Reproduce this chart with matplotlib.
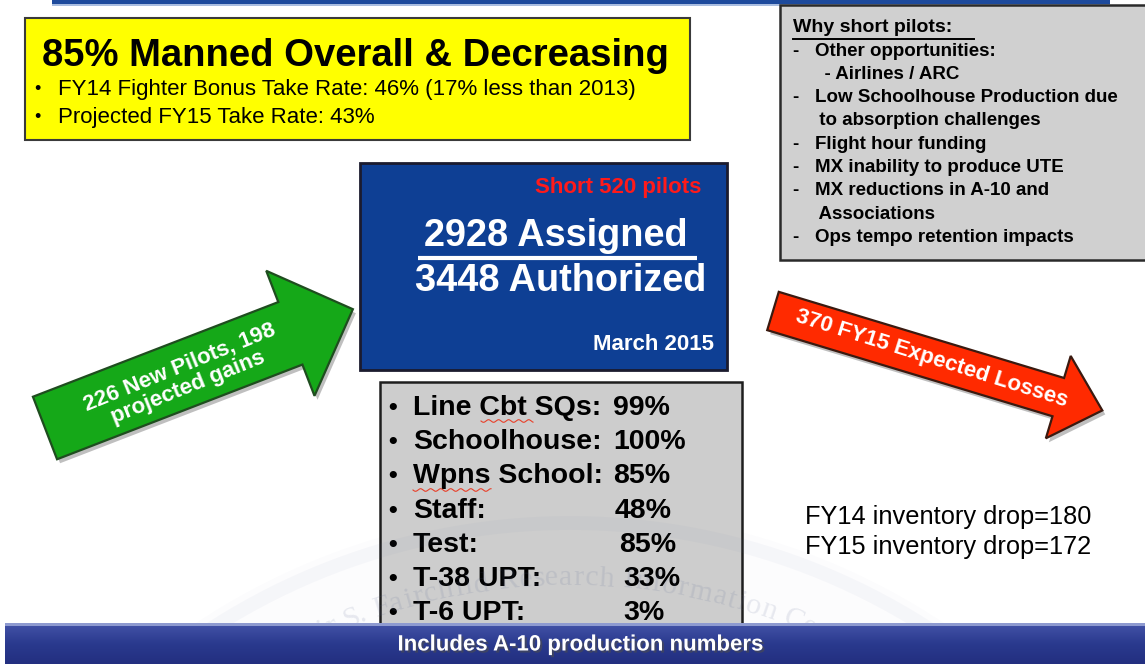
import numpy as np
import matplotlib
matplotlib.use("Agg")
import matplotlib.pyplot as plt
from matplotlib.patches import Polygon, Rectangle, Circle
from matplotlib import patheffects as pe
from matplotlib import font_manager
from matplotlib.textpath import TextPath
from matplotlib.font_manager import FontProperties

plt.rcParams["font.family"] = ["Liberation Sans", "DejaVu Sans"]

# ---- content -------------------------------------------------------------
headline = "85% Manned Overall & Decreasing"
take_rate_notes = [
    "FY14 Fighter Bonus Take Rate: 46% (17% less than 2013)",
    "Projected FY15 Take Rate: 43%",
]
why_title = "Why short pilots:"
why_lines = [
    "-   Other opportunities:",
    "      - Airlines / ARC",
    "-   Low Schoolhouse Production due",
    "     to absorption challenges",
    "-   Flight hour funding",
    "-   MX inability to produce UTE",
    "-   MX reductions in A-10 and",
    "     Associations",
    "-   Ops tempo retention impacts",
]
assigned = 2928
authorized = 3448
as_of = "March 2015"
unit_labels = ["Line Cbt SQs:", "Schoolhouse:", "Wpns School:", "Staff:",
               "Test:", "T-38 UPT:", "T-6 UPT:"]
unit_pct = [99, 100, 85, 48, 85, 33, 3]
new_pilots = 226
projected_gains = 198
expected_losses = 370
drop_years = ["FY14", "FY15"]
drop_values = [180, 172]
footer = "Includes A-10 production numbers"
watermark = "Muir S. Fairchild Research Information Center"

# ---- canvas (pixel coordinates, y down) ---------------------------------
W, H = 1145, 664
fig = plt.figure(figsize=(W / 100, H / 100), dpi=100)
ax = fig.add_axes([0, 0, 1, 1])
ax.set_xlim(0, W)
ax.set_ylim(H, 0)
ax.axis("off")

# top rule
ax.add_patch(Rectangle((52, 0), 1058, 4, fc="#1d4a9c", ec="none", zorder=2))
ax.add_patch(Rectangle((52, 4), 1058, 2, fc="#a9bde0", ec="none", zorder=2))

# yellow headline box
ax.add_patch(Rectangle((25, 18), 665, 122, fc="#ffff00", ec="#3a3a3a", lw=1.5, zorder=2))
ax.text(42, 56, headline, fontsize=27.5, fontweight="bold", va="center", zorder=3)
for i, note in enumerate(take_rate_notes):
    y = 89 + i * 29
    ax.text(34, y, "\u2022", fontsize=13, va="center", zorder=3)
    ax.text(58, y, note, fontsize=16, va="center", zorder=3)

# right gray box
ax.add_patch(Rectangle((780, 5), 380, 255, fc="#d0d0d0", ec="#2a2a2a", lw=1.8, zorder=2))
ax.text(793, 28, why_title, fontsize=14, fontweight="bold", va="center", zorder=3)
ax.plot([793, 974], [39, 39], color="black", lw=1.4, zorder=3)
for i, line in enumerate(why_lines):
    ax.text(793, 51 + i * 23.3, line, fontsize=13.5, fontweight="bold",
            va="center", zorder=3)

# blue totals box
ax.add_patch(Rectangle((360, 163), 367, 207, fc="#0e3f94", ec="#1b1b2e", lw=2, zorder=2))
ax.text(618, 187, f"Short {authorized - assigned} pilots", fontsize=16,
        fontweight="bold", color="#ff1a1a", ha="center", va="center", zorder=3)
ax.text(556, 236, f"{assigned} Assigned", fontsize=27.3, fontweight="bold",
        color="white", ha="center", va="center", zorder=3)
ax.plot([418, 697], [258, 258], color="white", lw=3, solid_capstyle="butt", zorder=3)
ax.text(561, 281, f"{authorized} Authorized", fontsize=27.3, fontweight="bold",
        color="white", ha="center", va="center", zorder=3)
ax.text(714, 344, as_of, fontsize=16, fontweight="bold", color="white",
        ha="right", va="center", zorder=3)

# lower gray manning box
ax.add_patch(Rectangle((380, 382), 362, 260, fc="#cdcdcd", ec="#1e1e1e", lw=1.8, zorder=2))
pct_x = [613, 613, 613, 615, 619, 623, 623]
for i, (lab, pct) in enumerate(zip(unit_labels, unit_pct)):
    y = 408 + i * 34.2
    ax.text(388, y, "\u2022", fontsize=18, fontweight="bold", va="center", zorder=3)
    ax.text(413, y, lab, fontsize=20.5, fontweight="bold", va="center", zorder=3)
    ax.text(pct_x[i], y, f"{pct}%", fontsize=20.5, fontweight="bold", va="center", zorder=3)

# spell-check squiggles under "Cbt" and "Wpns"
for x0, x1, y0 in [(481, 533, 421), (413, 491, 490)]:
    xs = np.linspace(x0, x1, 200)
    ax.plot(xs, y0 + 1.3 * np.sin((xs - x0) / 1.6), color="#e8402a", lw=0.8, zorder=3)


# ---- block arrows ---------------------------------------------------------
def block_arrow(tail, ang, length, shaft_w, head_w, head_len):
    a = np.radians(ang)
    u = np.array([np.cos(a), -np.sin(a)])
    n = np.array([np.sin(a), np.cos(a)])
    loc = [(0, -shaft_w / 2), (length - head_len, -shaft_w / 2),
           (length - head_len, -head_w / 2), (length, 0),
           (length - head_len, head_w / 2), (length - head_len, shaft_w / 2),
           (0, shaft_w / 2)]
    return np.array([np.array(tail) + x * u + y * n for x, y in loc])


def draw_arrow(pts, face, edge, zorder=4):
    shadow = Polygon(pts + np.array([3, 4]), closed=True, fc="black", ec="none",
                     alpha=0.25, zorder=zorder - 0.2)
    ax.add_patch(shadow)
    ax.add_patch(Polygon(pts, closed=True, fc=face, ec=edge, lw=1.6,
                         joinstyle="miter", zorder=zorder))


green = block_arrow((45, 428), 21.1, 330, 67, 134, 67)
draw_arrow(green, "#15a818", "#1f4d1f")
ax.text(184, 377, f"{new_pilots} New Pilots, {projected_gains}\nprojected gains",
        fontsize=16, fontweight="bold", color="white", ha="center", va="center",
        rotation=22, rotation_mode="anchor", linespacing=1.05, zorder=5)

red = block_arrow((773, 311), -16.8, 344, 40, 86, 46)
draw_arrow(red, "#ff2a00", "#3a1a10")
ax.text(932, 359, f"{expected_losses} FY15 Expected Losses", fontsize=16,
        fontweight="bold", color="white", ha="center", va="center",
        rotation=-17.5, rotation_mode="anchor", zorder=5)

# inventory drop
for i, (yr, v) in enumerate(zip(drop_years, drop_values)):
    ax.text(805, 517 + i * 30, f"{yr} inventory drop={v}", fontsize=18.3,
            va="center", zorder=3)

# ---- watermark seal -------------------------------------------------------
cx, cy, R = 570, 1185, 600
ax.add_patch(Circle((cx, cy), R + 62, fc="none", ec="#6a7aa8", lw=10, alpha=0.045, zorder=6))
ax.add_patch(Circle((cx, cy), R + 75, fc="#8090c0", ec="none", alpha=0.025, zorder=1))
fs_px = 30
fp = FontProperties(family="Liberation Serif")
adv = []
for ch in watermark:
    if ch == " ":
        adv.append(0.28 * fs_px)
    else:
        ext = TextPath((0, 0), ch, size=fs_px, prop=fp).get_extents()
        adv.append(ext.width + 0.08 * fs_px)
adv = np.array(adv)
total = adv.sum()
pos = np.cumsum(adv) - adv / 2 - total / 2
for ch, s in zip(watermark, pos):
    th = s / R
    x = cx + R * np.sin(th)
    y = cy - R * np.cos(th)
    ax.text(x, y, ch, fontsize=fs_px * 0.72, family="Liberation Serif",
            color="#55648f", alpha=0.13, ha="center", va="baseline",
            rotation=-np.degrees(th), rotation_mode="anchor", zorder=6)

# ---- footer banner --------------------------------------------------------
grad = np.linspace(0, 1, 64).reshape(-1, 1)
ax.imshow(grad, extent=(5, W, H, 623), cmap=matplotlib.colors.LinearSegmentedColormap.from_list(
    "ban", ["#4453a8", "#2a3a8e", "#232f80"]), aspect="auto", zorder=7)
ax.add_patch(Rectangle((5, 623), W - 5, 2.5, fc="#8e9ad0", ec="none", zorder=7.5))
narrow = "Liberation Sans Narrow" in {f.name for f in font_manager.fontManager.ttflist}
ax.text(580, 645, footer, fontsize=19 if narrow else 16,
        family="Liberation Sans Narrow" if narrow else "Liberation Sans",
        fontweight="bold", color="white", ha="center", va="center", zorder=8,
        path_effects=[pe.withSimplePatchShadow(offset=(1.5, -1.5), alpha=0.6)])
ax.set_xlim(0, W)
ax.set_ylim(H, 0)

fig.savefig("out.png", dpi=100, facecolor="white")
